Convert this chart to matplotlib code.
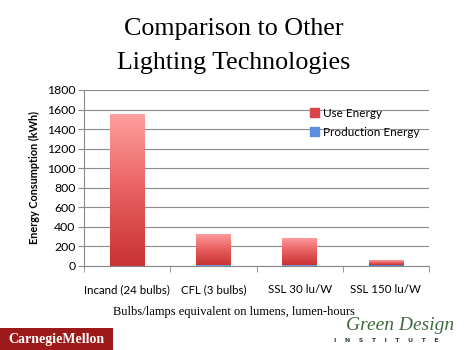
import numpy as np
import matplotlib.pyplot as plt
from matplotlib.colors import LinearSegmentedColormap
from matplotlib.patches import Rectangle

# data
categories = ['Incand (24 bulbs)', 'CFL (3 bulbs)', 'SSL 30 lu/W', 'SSL 150 lu/W']
production_energy = [3, 6, 8, 15]
use_energy = [1552, 324, 283, 43]
yticks = [0, 200, 400, 600, 800, 1000, 1200, 1400, 1600, 1800]

fig = plt.figure(figsize=(4.68, 3.5), dpi=100)
fig.patch.set_facecolor('white')

# title
fig.text(0.5, 1 - 29 / 350, 'Comparison to Other', ha='center', va='center',
         family='Liberation Serif', fontsize=18.7)
fig.text(0.5, 1 - 63 / 350, 'Lighting Technologies', ha='center', va='center',
         family='Liberation Serif', fontsize=18.7)

ax = fig.add_axes([84 / 468, 1 - 266 / 350, 345 / 468, 176 / 350])
x = np.arange(len(categories))
w = 0.4

red_cmap = LinearSegmentedColormap.from_list('r', ['#c93232', '#e86060', '#ff9f9f'])
blue_cmap = LinearSegmentedColormap.from_list('b', ['#3a6fc4', '#8fb4ee'])
grad = np.linspace(0, 1, 256).reshape(-1, 1)

def gradient_bar(xc, bottom, height, cmap):
    rect = Rectangle((xc - w / 2, bottom), w, height, facecolor='none', edgecolor='none')
    ax.add_patch(rect)
    im = ax.imshow(grad, cmap=cmap, origin='lower', aspect='auto',
                   extent=[xc - w / 2, xc + w / 2, bottom, bottom + height], zorder=2)
    im.set_clip_path(rect)

for i in range(len(categories)):
    gradient_bar(x[i], 0, production_energy[i], blue_cmap)
    gradient_bar(x[i], production_energy[i], use_energy[i], red_cmap)

ax.set_xlim(-0.5, len(categories) - 0.5)
ax.set_ylim(0, 1800)
ax.set_yticks(yticks)
ax.set_yticklabels([str(t) for t in yticks], family='Lato', fontsize=8.8)
ax.set_xticks(x)
ax.set_xticklabels(categories, family='Lato', fontsize=8.3)
ax.set_xticks(np.arange(len(categories) + 1) - 0.5, minor=True)
ax.tick_params(axis='x', which='major', length=0, pad=13)
ax.tick_params(axis='x', which='minor', length=4, color='#888888')
ax.tick_params(axis='y', length=4, color='#888888', pad=2)
ax.grid(axis='y', color='#8c8c8c', linewidth=0.8, zorder=0)
ax.set_axisbelow(True)
for s in ['top', 'right']:
    ax.spines[s].set_visible(False)
ax.spines['left'].set_color('#888888')
ax.spines['bottom'].set_color('#888888')
ax.set_ylabel('Energy Consumption (kWh)', family='Lato', fontweight='bold',
              fontsize=7.8, labelpad=5)

# legend
handles = [Rectangle((0, 0), 1, 1, color='#d94444'), Rectangle((0, 0), 1, 1, color='#5b8fde')]
leg = ax.legend(handles, ['Use Energy', 'Production Energy'], loc='upper left',
                bbox_to_anchor=(0.625, 0.96), frameon=False, handlelength=0.75,
                handleheight=0.75, handletextpad=0.3, labelspacing=0.7,
                prop={'family': 'Lato', 'size': 8.5})

# footer
fig.text(0.5, 1 - 312 / 350, 'Bulbs/lamps equivalent on lumens, lumen-hours',
         ha='center', va='center', family='Liberation Serif', fontsize=9)
fig.patches.append(Rectangle((0, 0), 113 / 468, 22 / 350, transform=fig.transFigure,
                             facecolor='#9c1a1a', edgecolor='none'))
fig.text(56 / 468, 11 / 350, 'CarnegieMellon', ha='center', va='center', color='white',
         family='Liberation Serif', fontweight='bold', fontsize=10)
fig.text(400 / 468, 1 - 326 / 350, 'Green Design', ha='center', va='center', color='#3e6b3e',
         family='Liberation Serif', style='italic', fontsize=14)
fig.text(386 / 468, 1 - 341 / 350, 'I    N    S    T    I    T    U    T    E', ha='center',
         va='center', color='#2e4a2e', family='DejaVu Sans', fontsize=4.5, fontweight='bold')

fig.savefig('out.png', dpi=100)
